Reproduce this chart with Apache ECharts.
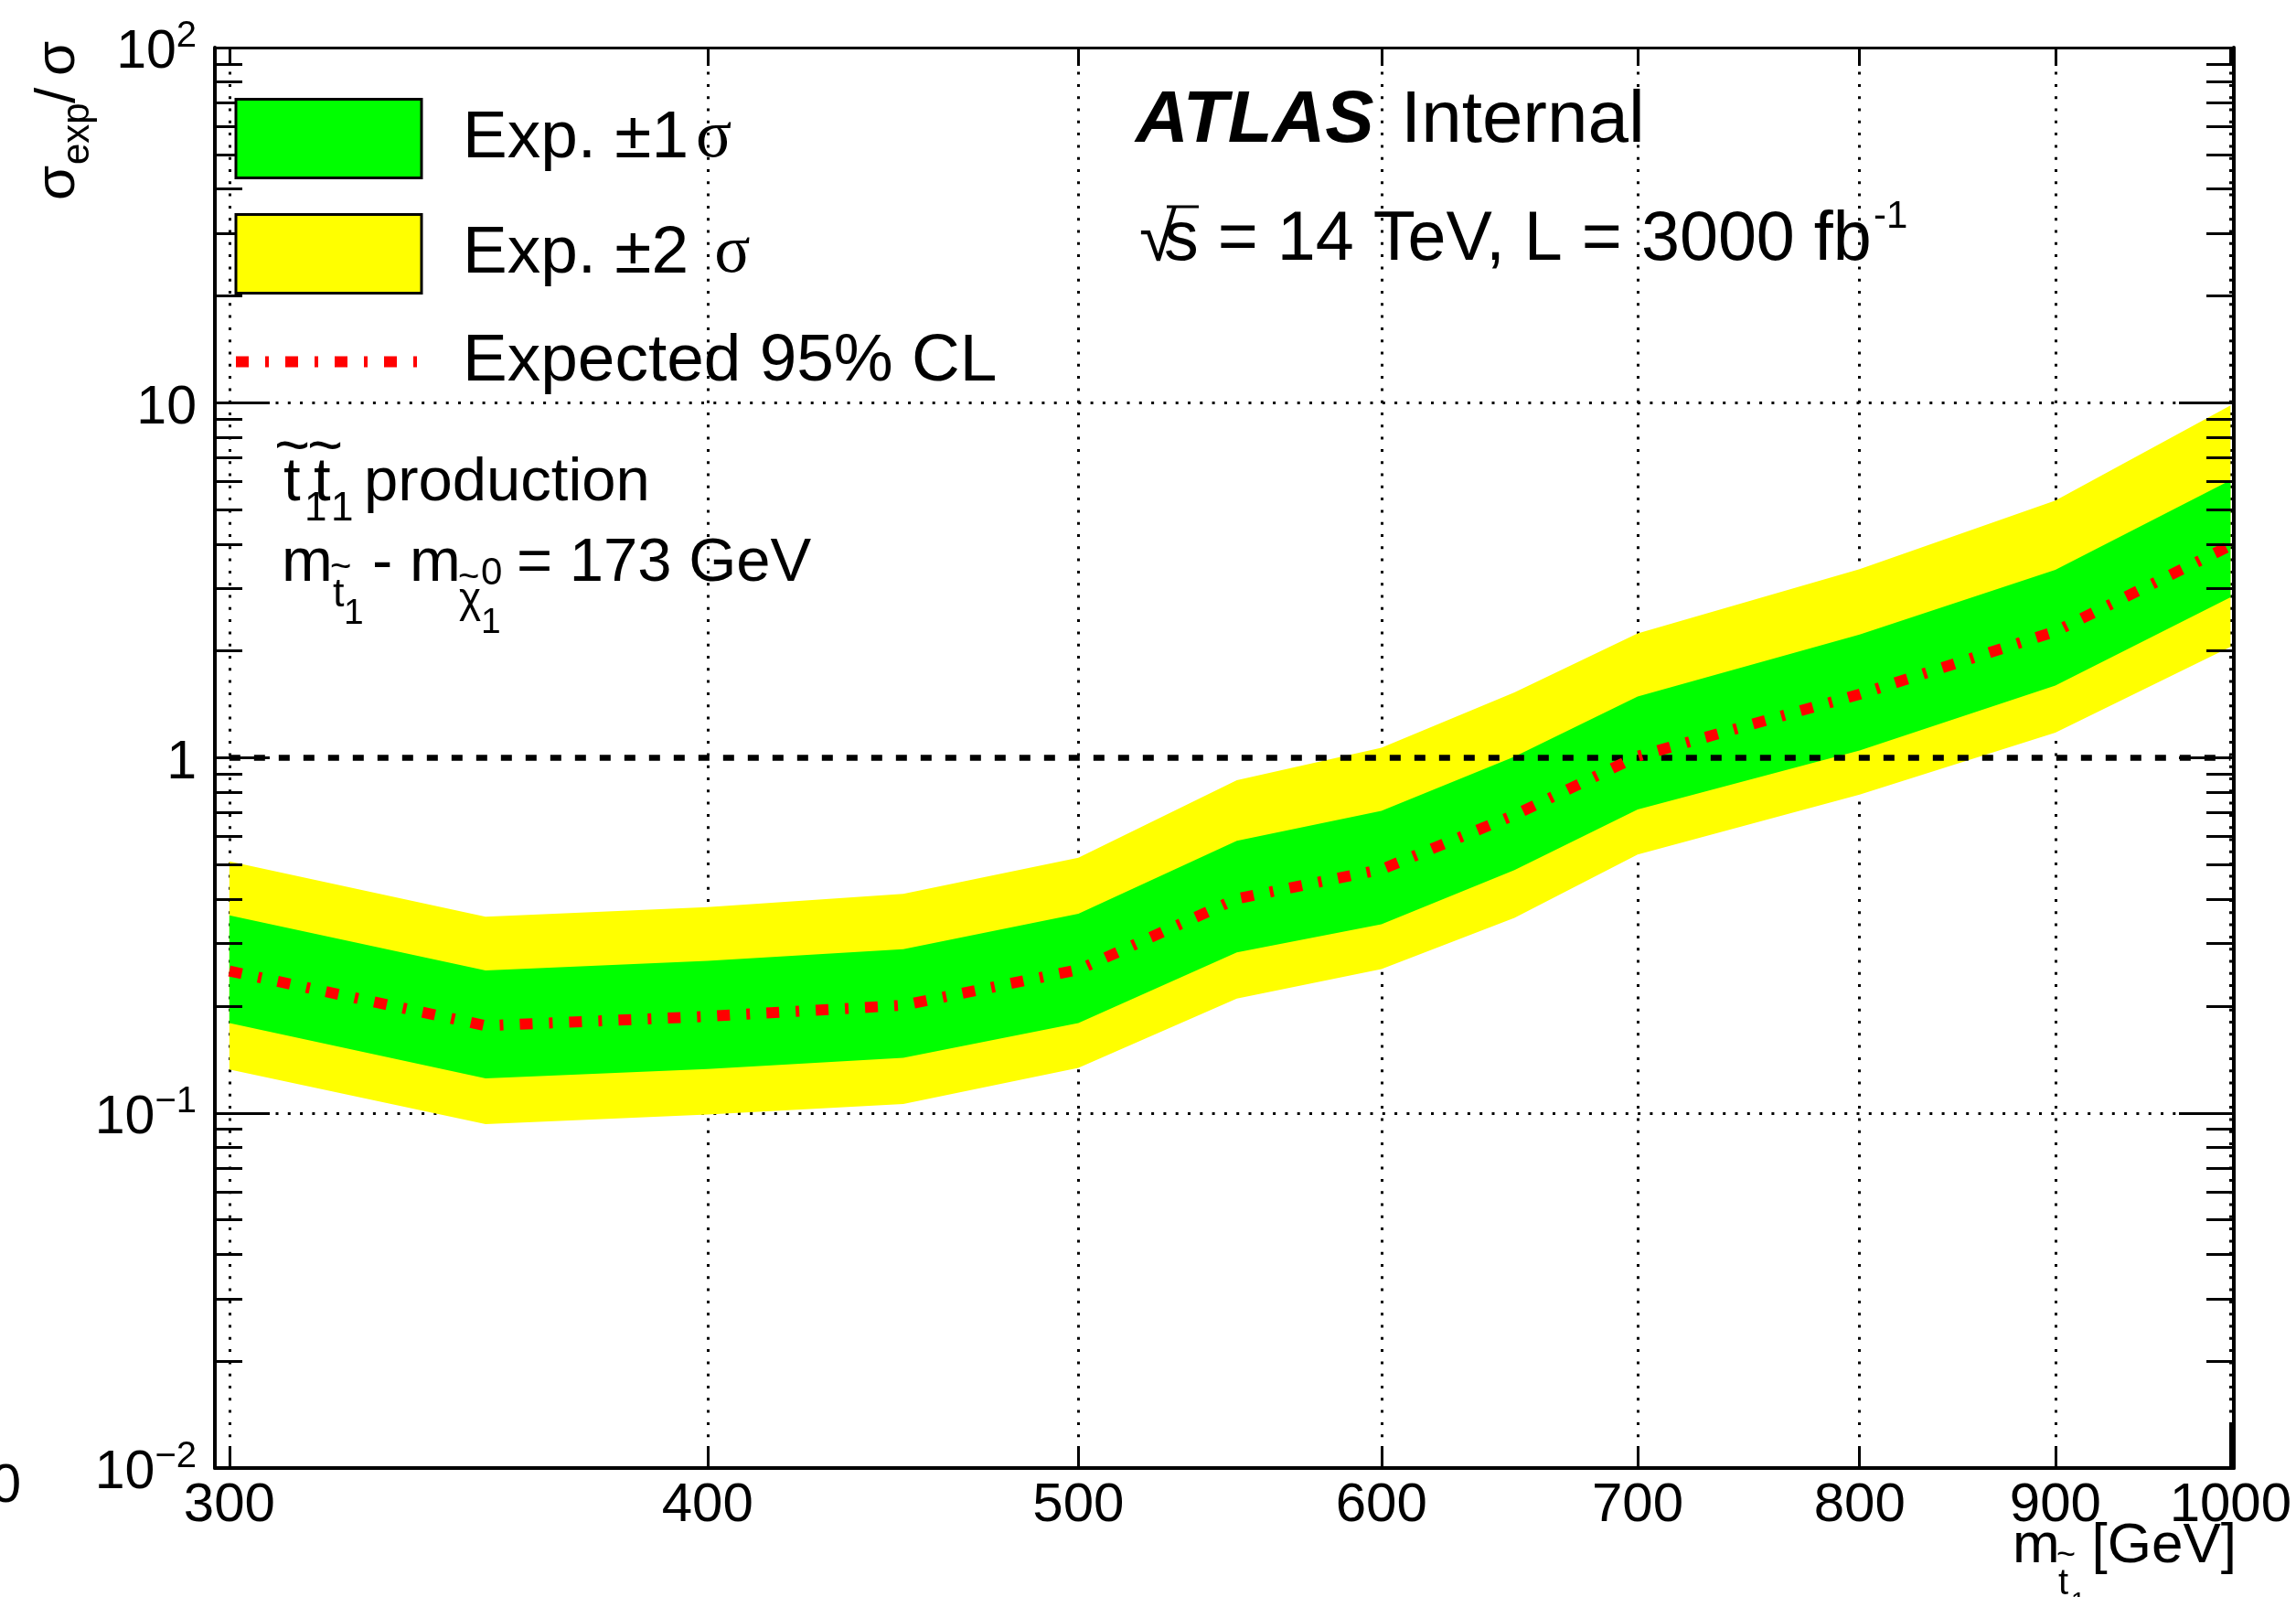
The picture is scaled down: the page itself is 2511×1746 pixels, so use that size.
<!DOCTYPE html>
<html><head><meta charset="utf-8">
<script src="https://cdn.jsdelivr.net/npm/echarts@6/dist/echarts.min.js"></script>
<style>html,body{margin:0;padding:0;background:#fff;}#c{width:2511px;height:1746px;}</style>
</head><body><div id="c"></div>
<script>
// ---------------- data ----------------
const masses   = [300, 350, 400, 450, 500, 550, 600, 650, 700, 800, 900, 1000];
const expected = [0.251, 0.176, 0.187, 0.201, 0.253, 0.401, 0.485, 0.690, 1.01, 1.51, 2.27, 3.96];
const plus1    = [0.360, 0.252, 0.268, 0.289, 0.364, 0.584, 0.709, 1.008, 1.487, 2.223, 3.381, 6.05];
const minus1   = [0.179, 0.125, 0.133, 0.143, 0.179, 0.283, 0.340, 0.483, 0.715, 1.048, 1.598, 2.83];
const plus2    = [0.511, 0.357, 0.380, 0.414, 0.523, 0.865, 1.068, 1.527, 2.240, 3.40, 5.30, 9.82];
const minus2   = [0.1325, 0.093, 0.099, 0.106, 0.134, 0.210, 0.254, 0.354, 0.534, 0.788, 1.178, 2.054];
const xTicks   = [300, 400, 500, 600, 700, 800, 900, 1000];
const yMajor   = [0.01, 0.1, 1, 10, 100];
const yGrid    = [0.01, 0.1, 10, 100];
const yMinor   = [0.02, 0.03, 0.04, 0.05, 0.06, 0.07, 0.08, 0.09,
                  0.2, 0.3, 0.4, 0.5, 0.6, 0.7, 0.8, 0.9,
                  2, 3, 4, 5, 6, 7, 8, 9,
                  20, 30, 40, 50, 60, 70, 80, 90];
const refLine  = 1;
const names = ['Exp. \u00b11 \u03c3', 'Exp. \u00b12 \u03c3', 'Expected 95% CL'];

// ---------------- chart ----------------
const FF = 'Liberation Sans, Arial, Helvetica, sans-serif';
const chart = echarts.init(document.getElementById('c'), null, {renderer: 'canvas'});
const X_MIN = 297.4, X_MAX = 1002;

function bandSeries(name, upper, lower, color, z) {
  return {
    name: name, type: 'custom', xAxisIndex: 0, yAxisIndex: 0, z: z, silent: true,
    itemStyle: {color: color},
    data: masses.map((m, i) => [m, lower[i], upper[i]]),
    renderItem: function (params, api) {
      if (params.dataIndex !== 0) return null;
      const pts = [];
      for (let i = 0; i < masses.length; i++) pts.push(api.coord([masses[i], upper[i]]));
      for (let i = masses.length - 1; i >= 0; i--) pts.push(api.coord([masses[i], lower[i]]));
      return {type: 'polygon', shape: {points: pts}, style: {fill: color, stroke: null}};
    }
  };
}

function xAx(o) {
  return Object.assign({
    type: 'log', logBase: 10, min: X_MIN, max: X_MAX, gridIndex: 0, position: 'bottom',
    axisLine: {show: false}, axisTick: {show: false}, axisLabel: {show: false},
    splitLine: {show: false}, minorTick: {show: false}, minorSplitLine: {show: false}
  }, o);
}
function yAx(o) {
  return Object.assign({
    type: 'log', logBase: 10, min: 0.01, max: 100, gridIndex: 0, position: 'left',
    axisLine: {show: false}, axisTick: {show: false}, axisLabel: {show: false},
    splitLine: {show: false}, minorTick: {show: false}, minorSplitLine: {show: false}
  }, o);
}
const dotted = {color: '#000', width: 3, type: [3, 10.3]};
const frameLine = w => ({show: true, onZero: false, lineStyle: {color: '#000', width: w}});
const tick = (vals, len) => ({show: true, inside: true, length: len, customValues: vals,
                             lineStyle: {color: '#000', width: 3}});

function supLabel(v) {
  const e = Math.round(Math.log10(v));
  if (e === 0) return '{b|1}';
  if (e === 1) return '{b|10}';
  return '{b|10}{sup|' + (e < 0 ? '\u2212' : '') + Math.abs(e) + '}';
}

function T(x, y, text, size, extra) {
  return {type: 'text', x: x, y: y, z: 50, silent: true,
    style: Object.assign({text: text, fontSize: size, fontFamily: FF, fill: '#000',
      align: 'left', verticalAlign: 'middle'}, extra || {})};
}

const option = {
  animation: false,
  backgroundColor: '#fff',
  textStyle: {fontFamily: FF},
  grid: {left: 235, top: 52, right: 2511 - 2443, bottom: 1746 - 1605, containLabel: false, outerBoundsMode: 'none'},
  xAxis: [
    xAx({z: 0, splitLine: {show: true, lineStyle: dotted},
         axisTick: {show: false, customValues: xTicks},
         axisLabel: {show: true, customValues: xTicks, fontSize: 60, color: '#000', margin: 11,
                     fontFamily: FF, formatter: v => String(Math.round(v))}}),
    xAx({z: 10, axisLine: frameLine(4), axisTick: tick(xTicks, 24)}),
    xAx({z: 10, axisTick: tick([1000], 47)}),
    xAx({z: 10, position: 'top', axisLine: frameLine(3), axisTick: tick(xTicks, 20)})
  ],
  yAxis: [
    yAx({z: 0, splitLine: {show: true, lineStyle: dotted},
         axisTick: {show: false, customValues: yGrid},
         axisLabel: {show: true, customValues: yMajor, margin: 20, color: '#000', formatter: supLabel,
                     padding: [12, 0, 0, 0],
                     rich: {b: {fontSize: 59, lineHeight: 76, fontFamily: FF, color: '#000'},
                            sup: {fontSize: 40, lineHeight: 36, verticalAlign: 'top', fontFamily: FF, color: '#000'}}}}),
    yAx({z: 10, axisLine: frameLine(4), axisTick: tick(yMajor, 60)}),
    yAx({z: 10, axisTick: tick(yMinor, 30)}),
    yAx({z: 10, position: 'right', axisLine: frameLine(4), axisTick: tick(yMajor, 60)}),
    yAx({z: 10, position: 'right', axisTick: tick(yMinor, 30)})
  ],
  legend: {
    orient: 'vertical', left: 252, top: 107, padding: 0, itemGap: 37,
    itemWidth: 203, itemHeight: 86, selectedMode: false, z: 20,
    lineStyle: {width: 12},
    data: [
      {name: names[0], icon: 'rect', itemStyle: {color: '#00ff00', borderColor: '#000', borderWidth: 3}},
      {name: names[1], icon: 'rect', itemStyle: {color: '#ffff00', borderColor: '#000', borderWidth: 3}},
      {name: names[2], itemStyle: {color: 'rgba(0,0,0,0)', borderWidth: 0, opacity: 0}}
    ],
    formatter: function (name) {
      if (name === names[0]) return '{g| }{t|Exp. \u00b11}{s|\u03c3}';
      if (name === names[1]) return '{g| }{t|Exp. \u00b12 }{s|\u03c3}';
      return '{g| }{t|Expected 95% CL}';
    },
    textStyle: {
      rich: {
        g: {width: 40, fontSize: 73},
        t: {fontSize: 73, fontFamily: FF, color: '#000'},
        s: {fontSize: 73, fontFamily: 'Liberation Serif, Times New Roman, serif', color: '#000', padding: [0, 0, 0, 8]}
      }
    }
  },
  series: [
    bandSeries(names[1], plus2, minus2, '#ffff00', 1),
    bandSeries(names[0], plus1, minus1, '#00ff00', 1.5),
    {
      name: names[2], type: 'line', xAxisIndex: 0, yAxisIndex: 0, z: 3, silent: true,
      symbol: 'none', itemStyle: {color: '#ff0000'},
      lineStyle: {color: '#ff0000', width: 12, type: [14, 18, 4, 18], cap: 'butt'},
      data: masses.map((m, i) => [m, expected[i]]),
      markLine: {
        silent: true, symbol: 'none', z: 2, animation: false,
        label: {show: false}, emphasis: {disabled: true},
        lineStyle: {color: '#000', width: 6.5, type: [12, 15]},
        data: [[{coord: [masses[0], refLine]}, {coord: [masses[masses.length - 1], refLine]}]]
      }
    }
  ],
  graphic: [
    // ATLAS Internal
    {type: 'text', x: 1242, y: 133, z: 50, silent: true,
     style: {text: '{a|ATLAS}{b| Internal}', verticalAlign: 'middle', align: 'left',
       rich: {a: {fontSize: 80, fontWeight: 'bold', fontStyle: 'italic', fontFamily: FF, color: '#000'},
              b: {fontSize: 80, fontFamily: FF, color: '#000', padding: [0, 0, 0, 7]}}}},
    // sqrt(s) line
    T(1246, 264, '\u221a', 75),
    {type: 'line', z: 50, silent: true, shape: {x1: 1276, y1: 226, x2: 1311, y2: 226}, style: {stroke: '#000', lineWidth: 3}},
    T(1273, 263, 's = 14 TeV, L = 3000 fb', 75.5),
    T(2049, 237, '-1', 42),
    // t1 t1 production
    T(310, 529, 't', 67), T(300, 491, '~', 67), T(333, 557, '1', 44),
    T(343, 529, 't', 67), T(336, 491, '~', 67), T(362, 557, '1', 44),
    T(398, 529, 'production', 67),
    // m_stop - m_chi = 173 GeV
    T(308, 617, 'm', 67), T(364, 651, 't', 45), T(361, 621, '~', 40), T(376, 671, '1', 39),
    T(407, 617, '-', 67),
    T(448, 617, 'm', 67), T(502, 656, '\u03c7', 46), T(501, 632, '~', 40),
    T(526, 627, '0', 42), T(526, 681, '1', 39),
    T(565, 617, '= 173 GeV', 67),
    // x axis title
    T(2201, 1691, 'm', 62), T(2251, 1732, 't', 40), T(2249, 1701, '~', 36), T(2265, 1752, '1', 28),
    T(2446, 1691, '[GeV]', 62, {align: 'right'}),
    // y axis title (rotated)
    {type: 'group', x: 85, y: 217, rotation: Math.PI / 2, z: 50, silent: true, children: [
      T(-2, -21.5, '\u03c3', 62), T(37, 0.5, 'exp', 42), T(104, -21.5, '/', 62), T(134, -21.5, '\u03c3', 62)
    ]},
    // clipped label fragment at far left
    T(23, 1625, '0', 60, {align: 'right'})
  ]
};
chart.setOption(option);
</script>
</body></html>
